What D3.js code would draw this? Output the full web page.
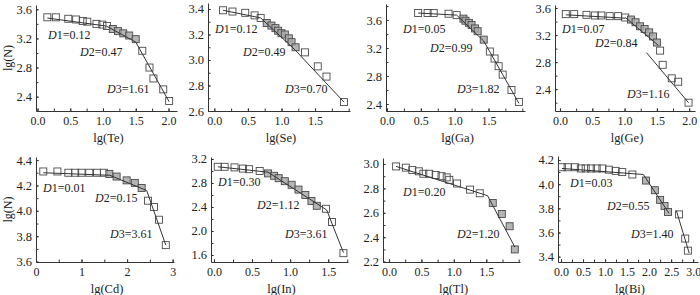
<!DOCTYPE html>
<html>
<head>
<meta charset="utf-8">
<script src="https://cdn.jsdelivr.net/npm/d3@7"></script>
<style>
  body { margin: 0; background: #fff; }
  svg text { font-family: "Liberation Serif", "Times New Roman", serif; fill: #222; }
</style>
</head>
<body>
<svg id="chart" width="700" height="295"></svg>
<script>
/*------------------------------------------*/
/*            Data    */
/*------------------------------------------*/

var elements = ["Te", "Se", "Ga", "Ge", "Cd", "In", "Tl", "Bi"];

// lg(concentration), lg(N), shaded (1) or open (0) marker
var teX = [0.15, 0.28, 0.47, 0.59, 0.69, 0.76, 0.90, 0.99, 1.06, 1.15, 1.23, 1.31, 1.40, 1.50, 1.60, 1.71, 1.77, 1.92, 2.01];
var teY = [3.49, 3.49, 3.47, 3.46, 3.44, 3.43, 3.40, 3.39, 3.37, 3.33, 3.30, 3.27, 3.24, 3.19, 3.03, 2.80, 2.65, 2.50, 2.34];
var teFill = [0, 0, 0, 0, 0, 0, 0, 0, 0, 1, 1, 1, 1, 1, 0, 0, 0, 0, 0];

var seX = [0.13, 0.27, 0.46, 0.60, 0.69, 0.78, 0.85, 0.91, 0.95, 1.00, 1.05, 1.11, 1.15, 1.21, 1.35, 1.54, 1.67, 1.93];
var seY = [3.39, 3.38, 3.37, 3.35, 3.33, 3.29, 3.27, 3.25, 3.23, 3.21, 3.20, 3.17, 3.14, 3.10, 3.06, 2.95, 2.87, 2.67];
var seFill = [0, 0, 0, 0, 0, 1, 1, 1, 1, 1, 1, 1, 1, 1, 0, 0, 0, 0];

var gaX = [0.46, 0.60, 0.69, 0.91, 1.03, 1.13, 1.16, 1.21, 1.25, 1.30, 1.34, 1.43, 1.52, 1.59, 1.65, 1.71, 1.84, 1.95];
var gaY = [3.70, 3.70, 3.70, 3.69, 3.67, 3.62, 3.59, 3.56, 3.53, 3.48, 3.44, 3.32, 3.15, 3.05, 2.94, 2.82, 2.60, 2.43];
var gaFill = [0, 0, 0, 0, 0, 1, 1, 1, 1, 1, 1, 1, 0, 0, 0, 0, 0, 0];

var geX = [0.09, 0.22, 0.41, 0.54, 0.64, 0.77, 0.90, 1.01, 1.10, 1.17, 1.24, 1.31, 1.38, 1.44, 1.50, 1.55, 1.59, 1.73, 1.83, 1.99];
var geY = [3.51, 3.51, 3.50, 3.49, 3.49, 3.48, 3.48, 3.46, 3.43, 3.39, 3.33, 3.29, 3.24, 3.18, 3.09, 2.97, 2.76, 2.56, 2.51, 2.20];
var geFill = [0, 0, 0, 0, 0, 0, 0, 0, 1, 1, 1, 1, 1, 1, 1, 0, 0, 0, 0, 0];

var cdX = [0.16, 0.47, 0.71, 0.86, 1.00, 1.17, 1.34, 1.49, 1.61, 1.77, 1.99, 2.17, 2.32, 2.46, 2.59, 2.70, 2.85];
var cdY = [4.31, 4.31, 4.30, 4.30, 4.30, 4.30, 4.30, 4.30, 4.29, 4.27, 4.24, 4.22, 4.18, 4.08, 4.03, 3.93, 3.73];
var cdFill = [0, 0, 0, 0, 0, 0, 0, 0, 1, 1, 1, 1, 1, 0, 0, 0, 0];

var inX = [0.05, 0.14, 0.27, 0.38, 0.46, 0.60, 0.71, 0.79, 0.85, 0.93, 1.02, 1.11, 1.20, 1.28, 1.35, 1.47, 1.55, 1.70];
var inY = [3.07, 3.07, 3.06, 3.04, 3.03, 3.00, 2.96, 2.92, 2.88, 2.83, 2.77, 2.69, 2.60, 2.50, 2.42, 2.37, 2.15, 1.63];
var inFill = [0, 0, 0, 0, 0, 0, 1, 1, 1, 1, 1, 1, 1, 1, 1, 0, 0, 0];

var tlX = [0.11, 0.26, 0.36, 0.46, 0.53, 0.62, 0.72, 0.81, 0.89, 0.93, 1.05, 1.25, 1.40, 1.60, 1.74, 1.86, 1.94];
var tlY = [2.98, 2.97, 2.95, 2.94, 2.92, 2.92, 2.91, 2.90, 2.89, 2.87, 2.84, 2.79, 2.76, 2.68, 2.59, 2.49, 2.30];
var tlFill = [0, 0, 0, 0, 0, 0, 0, 0, 0, 0, 0, 0, 0, 1, 1, 1, 1];

var biX = [0.02, 0.15, 0.32, 0.45, 0.56, 0.68, 0.81, 0.94, 1.09, 1.24, 1.39, 1.62, 1.93, 2.13, 2.25, 2.35, 2.43, 2.68, 2.82, 2.88];
var biY = [4.14, 4.14, 4.14, 4.13, 4.13, 4.13, 4.13, 4.13, 4.12, 4.11, 4.10, 4.08, 4.03, 3.95, 3.87, 3.82, 3.77, 3.75, 3.55, 3.45];
var biFill = [0, 0, 0, 0, 0, 0, 0, 0, 0, 0, 0, 0, 1, 1, 1, 1, 1, 0, 0, 0];

// fitted scaling segments [x0, y0, x1, y1]
var teFit = [[0.15, 3.48, 1.05, 3.37], [1.05, 3.37, 1.50, 3.15], [1.50, 3.15, 2.01, 2.33]];
var seFit = [[0.13, 3.39, 0.69, 3.33], [0.69, 3.33, 1.20, 3.08], [1.20, 3.08, 1.93, 2.67]];
var gaFit = [[0.46, 3.70, 1.03, 3.67], [1.03, 3.67, 1.43, 3.30], [1.43, 3.30, 1.95, 2.41]];
var geFit = [[0.09, 3.50, 1.01, 3.45], [1.01, 3.46, 1.52, 3.05], [1.34, 2.94, 1.99, 2.20]];
var cdFit = [[0.16, 4.30, 1.62, 4.28], [1.62, 4.28, 2.43, 4.16], [2.43, 4.16, 2.85, 3.73]];
var inFit = [[0.05, 3.07, 0.71, 2.98], [0.71, 2.98, 1.48, 2.35], [1.48, 2.35, 1.70, 1.64]];
var tlFit = [[0.11, 2.98, 1.52, 2.74], [1.52, 2.74, 1.94, 2.32]];
var biFit = [[0.02, 4.13, 1.87, 4.08], [1.87, 4.08, 2.45, 3.76], [2.62, 3.78, 2.91, 3.43]];

// fractal dimension labels
var teDim = ["D1=0.12", "D2=0.47", "D3=1.61"];
var seDim = ["D1=0.12", "D2=0.49", "D3=0.70"];
var gaDim = ["D1=0.05", "D2=0.99", "D3=1.82"];
var geDim = ["D1=0.07", "D2=0.84", "D3=1.16"];
var cdDim = ["D1=0.01", "D2=0.15", "D3=3.61"];
var inDim = ["D1=0.30", "D2=1.12", "D3=3.61"];
var tlDim = ["D1=0.20", "D2=1.20"];
var biDim = ["D1=0.03", "D2=0.55", "D3=1.40"];

// tick labels
var xTicksHalf2 = [0, 0.5, 1.0, 1.5, 2.0];
var xTicksHalf15 = [0, 0.5, 1.0, 1.5];
var xTicksInt3 = [0, 1, 2, 3];
var xTicksHalf3 = [0, 0.5, 1.0, 1.5, 2.0, 2.5, 3.0];
var yTicksTe = [2.4, 2.8, 3.2, 3.6];
var yTicksSe = [2.6, 2.8, 3.0, 3.2, 3.4];
var yTicksCd = [3.6, 3.8, 4.0, 4.2, 4.4];
var yTicksIn = [1.6, 2.0, 2.4, 2.8, 3.2];
var yTicksTl = [2.2, 2.4, 2.6, 2.8, 3.0];
var yTicksBi = [3.4, 3.6, 3.8, 4.0, 4.2];

/*------------------------------------------*/
/*            Panel layout                  */
/*------------------------------------------*/

var panels = [
  {name: elements[0], xs: teX, ys: teY, fill: teFill, fit: teFit, dim: teDim,
   box: [36, 177, 5, 111], xDom: [-0.023, 2.13], yDom: [2.203, 3.659],
   xTicks: xTicksHalf2, xMinor: 0.25, yTicks: yTicksTe, yMinor: 0.2, xFmt: ".1f", yTitle: true,
   labels: [[48, 39], [80, 56], [107, 93]]},
  {name: elements[1], xs: seX, ys: seY, fill: seFill, fit: seFit, dim: seDim,
   box: [208, 350, 3, 111], xDom: [-0.094, 2.02], yDom: [2.6, 3.447],
   xTicks: xTicksHalf15, xMinor: 0.25, yTicks: yTicksSe, yMinor: 0.1, xFmt: ".1f",
   labels: [[215, 33], [243, 56], [285, 93]]},
  {name: elements[2], xs: gaX, ys: gaY, fill: gaFill, fit: gaFit, dim: gaDim,
   box: [386, 525, 4, 111], xDom: [-0.015, 2.04], yDom: [2.30, 3.829],
   xTicks: xTicksHalf15, xMinor: 0.25, yTicks: yTicksTe, yMinor: 0.2, xFmt: ".1f",
   labels: [[403, 33], [430, 52], [457, 93]]},
  {name: elements[3], xs: geX, ys: geY, fill: geFill, fit: geFit, dim: geDim,
   box: [555, 695, 5, 111], xDom: [-0.077, 2.09], yDom: [2.077, 3.645],
   xTicks: xTicksHalf2, xMinor: 0.25, yTicks: yTicksTe, yMinor: 0.2, xFmt: ".1f",
   labels: [[562, 33], [595, 47], [627, 98]]},
  {name: elements[4], xs: cdX, ys: cdY, fill: cdFill, fit: cdFit, dim: cdDim,
   box: [36, 174, 157, 262], xDom: [0, 3.03], yDom: [3.597, 4.424],
   xTicks: xTicksInt3, xMinor: 0.5, yTicks: yTicksCd, yMinor: 0.1, xFmt: "d", yTitle: true,
   labels: [[43, 192], [95, 202], [110, 238]]},
  {name: elements[5], xs: inX, ys: inY, fill: inFill, fit: inFit, dim: inDim,
   box: [211, 348, 157, 262], xDom: [-0.039, 1.76], yDom: [1.483, 3.233],
   xTicks: xTicksHalf15, xMinor: 0.25, yTicks: yTicksIn, yMinor: 0.2, xFmt: ".1f",
   labels: [[218, 186], [257, 209], [285, 238]]},
  {name: elements[6], xs: tlX, ys: tlY, fill: tlFill, fit: tlFit, dim: tlDim,
   box: [383, 520, 158, 262], xDom: [-0.092, 2.02], yDom: [2.197, 3.049],
   xTicks: xTicksHalf15, xMinor: 0.25, yTicks: yTicksTl, yMinor: 0.1, xFmt: ".1f",
   labels: [[403, 196], [457, 238]]},
  {name: elements[7], xs: biX, ys: biY, fill: biFill, fit: biFit, dim: biDim,
   box: [558, 698, 156, 262], xDom: [-0.068, 3.11], yDom: [3.356, 4.233],
   xTicks: xTicksHalf3, xMinor: 0.25, yTicks: yTicksBi, yMinor: 0.1, xFmt: ".1f",
   labels: [[570, 187], [607, 210], [631, 238]]}
];

var svg = d3.select("#chart");
var markSize = 7;

function minorValues(dom, step) {
  var start = Math.ceil(dom[0] / step - 1e-6), end = Math.floor(dom[1] / step + 1e-6);
  return d3.range(start, end + 1).map(function(i) { return +(i * step).toFixed(3); });
}

function drawPanel(p) {
  var L = p.box[0], R = p.box[1], T = p.box[2], B = p.box[3];
  var x = d3.scaleLinear().domain(p.xDom).range([L, R]);
  var y = d3.scaleLinear().domain(p.yDom).range([B, T]);
  var g = svg.append("g");

  // minor ticks (inward)
  g.append("g").attr("transform", "translate(0," + B + ")")
    .call(d3.axisBottom(x).tickValues(minorValues(p.xDom, p.xMinor)).tickSize(-2.5).tickFormat(""))
    .call(function(a) { a.select(".domain").remove(); });
  g.append("g").attr("transform", "translate(" + L + ",0)")
    .call(d3.axisLeft(y).tickValues(minorValues(p.yDom, p.yMinor)).tickSize(-2.5).tickFormat(""))
    .call(function(a) { a.select(".domain").remove(); });

  // major axes
  var xa = g.append("g").attr("transform", "translate(0," + B + ")")
    .call(d3.axisBottom(x).tickValues(p.xTicks).tickSizeInner(-2.5).tickSizeOuter(0)
      .tickPadding(5).tickFormat(d3.format(p.xFmt)));
  var ya = g.append("g").attr("transform", "translate(" + L + ",0)")
    .call(d3.axisLeft(y).tickValues(p.yTicks).tickSizeInner(-2.5).tickSizeOuter(0)
      .tickPadding(4).tickFormat(d3.format(".1f")));

  g.selectAll(".domain, .tick line").attr("stroke", "#333").attr("stroke-width", 1);
  xa.selectAll("text").style("font-size", "12px").attr("fill", "#222");
  ya.selectAll("text").style("font-size", "12.5px").attr("fill", "#222");

  // x title
  g.append("text")
    .attr("x", (L + R) / 2 + 2).attr("y", B + 31)
    .attr("text-anchor", "middle")
    .style("font-size", "12.5px")
    .text("lg(" + p.name + ")");

  if (p.yTitle) {
    g.append("text")
      .attr("transform", "translate(12," + ((T + B) / 2) + ") rotate(-90)")
      .attr("text-anchor", "middle")
      .style("font-size", "12px")
      .text("lg(N)");
  }

  // markers
  var pts = p.xs.map(function(v, i) { return {x: v, y: p.ys[i], f: p.fill[i]}; });
  g.selectAll(".mark")
    .data(pts)
    .enter().append("rect")
    .attr("class", "mark")
    .attr("x", function(d) { return x(d.x) - markSize / 2; })
    .attr("y", function(d) { return y(d.y) - markSize / 2; })
    .attr("width", markSize)
    .attr("height", markSize)
    .style("fill", function(d) { return d.f ? "#a8a8a8" : "none"; })
    .style("fill-opacity", 0.85)
    .style("stroke", "#4a4a4a")
    .style("stroke-width", 0.9);

  // fitted segments
  g.selectAll(".fit")
    .data(p.fit)
    .enter().append("line")
    .attr("class", "fit")
    .attr("x1", function(d) { return x(d[0]); })
    .attr("y1", function(d) { return y(d[1]); })
    .attr("x2", function(d) { return x(d[2]); })
    .attr("y2", function(d) { return y(d[3]); })
    .style("stroke", "#333")
    .style("stroke-width", 1);

  // dimension labels
  p.dim.forEach(function(s, i) {
    var t = g.append("text")
      .attr("x", p.labels[i][0]).attr("y", p.labels[i][1])
      .style("font-size", "12px");
    t.append("tspan").style("font-style", "italic").text(s.charAt(0));
    t.append("tspan").text(s.slice(1));
  });
}

panels.forEach(drawPanel);
</script>
</body>
</html>
